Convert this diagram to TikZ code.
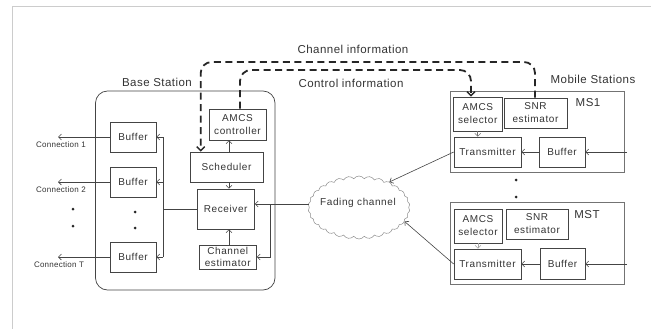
\documentclass[tikz,border=0pt]{standalone}
\usepackage{fontspec}
\setmainfont{Liberation Sans}
\usetikzlibrary{arrows.meta,shapes.symbols}
\definecolor{txt}{HTML}{333333}
\definecolor{ln}{HTML}{444444}
\begin{document}
\begin{tikzpicture}[x=1pt,y=-1pt,
  box/.style={draw=ln,line width=0.6pt,minimum width=#1,inner sep=0pt,align=center,
    text=txt,font=\fontsize{10}{13}\selectfont\addfontfeature{LetterSpace=6}},
  lbl/.style={text=txt,inner sep=0pt,font=\fontsize{11.5}{13}\selectfont\addfontfeature{LetterSpace=4}},
  conn/.style={text=txt,inner sep=0pt,font=\fontsize{8}{9}\selectfont\addfontfeature{LetterSpace=3}},
  arr/.style={draw=ln,line width=0.6pt,-{Straight Barb[length=3pt,width=6pt]}},
  plain/.style={draw=ln,line width=0.6pt},
  dsh/.style={draw=black!85,line width=1.8pt,dash pattern=on 7pt off 4.5pt,rounded corners=11pt,
    -{Straight Barb[length=4pt,width=8pt,line width=1.5pt]}},
  msbox/.style={draw=black!55,line width=0.9pt},
  dot/.style={circle,fill=black!85,inner sep=0pt,minimum size=3pt}
]
\useasboundingbox (0,0) rectangle (651,329);
% frame lines
\draw[black!20,line width=0.8pt] (12.5,329) -- (12.5,6) -- (651,6);

% base station
\node[draw=ln,line width=0.7pt,rounded corners=12pt,minimum width=179.5pt,minimum height=199pt,inner sep=0pt] (bs) at (185.25,190.5) {};
\node[lbl] (bslbl) at (157,82) {Base Station};

\node[box,minimum width=46pt,minimum height=30pt] (buf1) at (133,137) {Buffer};
\node[box,minimum width=46pt,minimum height=30pt] (buf2) at (133,182) {Buffer};
\node[box,minimum width=46pt,minimum height=30pt] (bufT) at (133,257) {Buffer};

\node[box,minimum width=57pt,minimum height=31pt] (amcsc) at (237.5,124.5) {AMCS\\controller};
\node[box,minimum width=73pt,minimum height=30pt] (sched) at (226.5,167) {Scheduler};
\node[box,minimum width=57.5pt,minimum height=40pt] (recv) at (225.75,209) {Receiver};
\node[box,minimum width=57.5pt,minimum height=24pt,font=\fontsize{10}{12}\selectfont\addfontfeature{LetterSpace=6}] (chest) at (227.75,257) {Channel\\estimator};

% cloud
\node[cloud,cloud puffs=30,cloud puff arc=110,aspect=1.6,draw=black!45,line width=0.5pt,
  minimum width=102pt,minimum height=63pt,inner sep=0pt,text=txt,
  font=\fontsize{10}{12}\selectfont\addfontfeature{LetterSpace=6}] (cloud) at (359,207.5) {};
\node[text=txt,inner sep=0pt,font=\fontsize{10}{12}\selectfont\addfontfeature{LetterSpace=6}] (cloudlbl) at (358,203) {Fading channel};

% mobile stations
\node[lbl] (mslbl) at (593,79) {Mobile Stations};
\node[msbox,minimum width=174pt,minimum height=81pt,inner sep=0pt] (ms1) at (537,131.5) {};
\node[lbl] (ms1lbl) at (588,103) {MS1};
\node[box,minimum width=48.5pt,minimum height=34pt] (sel1) at (477.75,114) {AMCS\\selector};
\node[box,minimum width=63pt,minimum height=30pt] (snr1) at (535.5,113) {SNR\\estimator};
\node[box,minimum width=67pt,minimum height=30pt] (tx1) at (487.5,152) {Transmitter};
\node[box,minimum width=46pt,minimum height=30pt] (bf1) at (562,152) {Buffer};

\node[msbox,minimum width=174pt,minimum height=82pt,inner sep=0pt] (mst) at (537,243) {};
\node[lbl] (mstlbl) at (587,215) {MST};
\node[box,minimum width=48pt,minimum height=34pt] (sel2) at (478,226) {AMCS\\selector};
\node[box,minimum width=62pt,minimum height=30pt] (snr2) at (537,224) {SNR\\estimator};
\node[box,minimum width=67pt,minimum height=30pt] (tx2) at (487.5,264) {Transmitter};
\node[box,minimum width=45pt,minimum height=31pt] (bf2) at (562.5,264) {Buffer};

% dots
\node[dot] (d1) at (73,209) {};
\node[dot] (d2) at (73,226) {};
\node[dot] (d3) at (135,212) {};
\node[dot] (d4) at (135,228) {};
\node[dot] (d5) at (516,180) {};
\node[dot] (d6) at (516,197) {};

% connections out
\coordinate (cx) at (58,0);
\draw[arr] (buf1.west) -- (buf1.west -| cx);
\draw[arr] (buf2.west) -- (buf2.west -| cx);
\draw[arr] (bufT.west) -- (bufT.west -| cx);
\node[conn] (c1) at (61,145) {Connection 1};
\node[conn] (c2) at (61,190) {Connection 2};
\node[conn] (cT) at (59,265) {Connection T};

% bus
\coordinate (bus) at (163,0);
\draw[plain] (bus |- buf1) -- (bus |- bufT);
\draw[plain] (recv.west) -- (recv.west -| bus);
\draw[arr] (bus |- buf1) -- (buf1.east);
\draw[arr] (bus |- buf2) -- (buf2.east);
\draw[arr] (bus |- bufT) -- (bufT.east);

% internal arrows
\coordinate (ax) at (229,0);
\draw[arr] (sched.north -| ax) -- (amcsc.south -| ax);
\draw[arr] (sched.south -| ax) -- (recv.north -| ax);
\draw[arr] (chest.north -| ax) -- (recv.south -| ax);

% cloud to receiver
\coordinate (jn) at (270,204);
\draw[arr] (cloud.west |- jn) -- (recv.east |- jn);
\draw[arr] (jn) |- (chest.east);

% MS arrows
\coordinate (inx) at (627,0);
\draw[arr] (bf1.east -| inx) -- (bf1.east);
\draw[arr] (bf1.west) -- (tx1.east);
\draw[arr,draw=black!55] (sel1.south) -- (sel1.south |- tx1.north);
\draw[arr] (tx1.west) -- (cloud.40);
\draw[arr] (bf2.east -| inx) -- (bf2.east);
\draw[arr] (bf2.west) -- (tx2.east);
\draw[arr,draw=black!35] (sel2.south) -- (sel2.south |- tx2.north);
\draw[arr] (tx2.west) -- (cloud.-17);

% dashed information lines
\coordinate (ci1) at (535,62);
\coordinate (ci2) at (200.7,62);
\draw[dsh] (snr1.north -| ci1) -- (ci1) -- (ci2) -- (sched.north -| ci2);
\coordinate (co1) at (240,70);
\coordinate (co2) at (471,70);
\draw[dsh] (amcsc.north -| co1) -- (co1) -- (co2) -- (sel1.north -| co2);
\node[lbl] (cilbl) at (353,49) {Channel information};
\node[lbl] (colbl) at (351,83) {Control information};
\end{tikzpicture}
\end{document}
